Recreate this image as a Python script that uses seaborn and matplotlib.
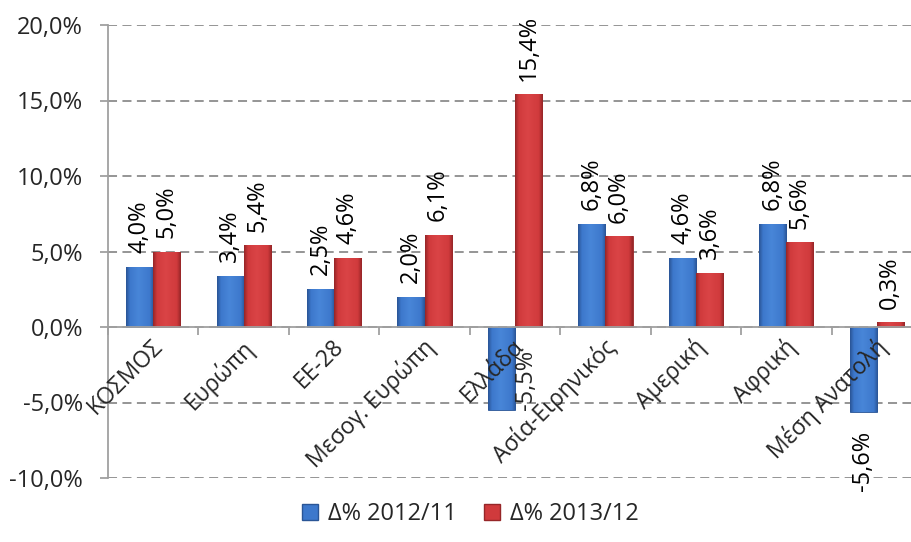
"""
Tourism arrivals change by region: Δ% 2012/11 vs Δ% 2013/12.
Grouped bar chart recreated with seaborn.
"""

import matplotlib

matplotlib.use("Agg")
import matplotlib.pyplot as plt
import numpy as np
import pandas as pd
import seaborn as sns
from matplotlib.colors import LinearSegmentedColormap
from matplotlib.lines import Line2D

# data
REGIONS = [
    "ΚΟΣΜΟΣ",
    "Ευρώπη",
    "ΕΕ-28",
    "Μεσογ. Ευρώπη",
    "Ελλάδα",
    "Ασία-Ειρηνικός",
    "Αμερική",
    "Αφρική",
    "Μέση Ανατολή",
]
CHANGE_2012_11 = [4.0, 3.4, 2.5, 2.0, -5.5, 6.8, 4.6, 6.8, -5.6]
CHANGE_2013_12 = [5.0, 5.4, 4.6, 6.1, 15.4, 6.0, 3.6, 5.6, 0.3]
SERIES = ["Δ% 2012/11", "Δ% 2013/12"]
Y_TICKS = [-10, -5, 0, 5, 10, 15, 20]

COLORS = ["#3d78cc", "#d03a3c"]
LIGHTS = ["#4886d8", "#da4446"]
EDGES = ["#2a5596", "#962628"]
GRID = "#8c8c8c"
AXIS = "#a0a0a0"
FS = 17
# label that Excel moved beside its bar (would hit the category text)
BESIDE_BAR = {(0, "Ελλάδα")}


def pct(v: float) -> str:
    """Greek style percent label, comma decimal"""
    return f"{v:.1f}%".replace(".", ",")


def build_frame() -> pd.DataFrame:
    rows = []
    for name, vals in zip(SERIES, [CHANGE_2012_11, CHANGE_2013_12]):
        for region, v in zip(REGIONS, vals):
            rows.append({"region": region, "series": name, "value": v})
    return pd.DataFrame(rows)


def shade_bars(ax) -> None:
    """Fake the Excel bevel: horizontal gradient clipped to each bar"""
    grad = np.linspace(0, 1, 64).reshape(1, -1)
    for cont, col, light, edge in zip(ax.containers, COLORS, LIGHTS, EDGES):
        cmap = LinearSegmentedColormap.from_list(
            "bev", [(0, edge), (0.14, col), (0.45, light), (0.86, col), (1, edge)]
        )
        for bar in cont:
            bar.set_facecolor(col)
            bar.set_edgecolor(edge)
            bar.set_linewidth(0.6)
            x0 = bar.get_x()
            x1 = x0 + bar.get_width()
            y0 = min(bar.get_y(), bar.get_y() + bar.get_height())
            y1 = max(bar.get_y(), bar.get_y() + bar.get_height())
            im = ax.imshow(grad, extent=[x0, x1, y0, y1], aspect="auto",
                           cmap=cmap, zorder=3.2, interpolation="bilinear")
            im.set_clip_path(bar)


def plot_chart(df: pd.DataFrame) -> None:
    sns.set_style("white")
    plt.rcParams["font.family"] = ["Open Sans", "DejaVu Sans"]

    fig = plt.figure(figsize=(9.12, 5.42), dpi=100)
    # plot area runs past the right edge of the picture, like the original
    ax = fig.add_axes([108 / 912, 64 / 542, 814 / 912, 453 / 542])

    sns.barplot(
        data=df, x="region", y="value", hue="series", order=REGIONS,
        hue_order=SERIES, palette=COLORS, width=0.6, gap=0, ax=ax,
        legend=False, zorder=3,
    )
    shade_bars(ax)

    # value labels, rotated
    for k, cont in enumerate(ax.containers):
        for i, bar in enumerate(cont):
            v = bar.get_height()
            x = bar.get_x() + bar.get_width() / 2
            if (k, REGIONS[i]) in BESIDE_BAR:
                ax.annotate(
                    pct(v), (x, v), xytext=(18, 0), textcoords="offset points",
                    rotation=90, ha="center", va="bottom", fontsize=FS, zorder=5,
                )
                continue
            off = 10 if v >= 0 else -14
            ax.annotate(
                pct(v), (x, v), xytext=(0, off), textcoords="offset points",
                rotation=90, ha="center", va="bottom" if v >= 0 else "top",
                fontsize=FS, color="black", zorder=5,
            )

    # category labels at 45 deg hanging below the zero line
    for i, name in enumerate(REGIONS):
        ax.text(i - 0.03, -0.5, name, rotation=45, ha="right", va="top",
                rotation_mode="anchor", fontsize=16.5, zorder=5)

    ax.set_xlim(-0.5, len(REGIONS) - 0.5)
    ax.set_ylim(-10, 20)
    ax.set_yticks(Y_TICKS)
    ax.set_yticklabels([pct(v) for v in Y_TICKS], fontsize=FS)
    ax.set_xticks(np.arange(-0.5, len(REGIONS), 1))
    ax.set_xticklabels([])
    ax.set_xlabel("")
    ax.set_ylabel("")

    ax.yaxis.grid(True, color=GRID, linestyle=(0, (5, 3)), linewidth=1.3, zorder=0)
    ax.xaxis.grid(False)
    for s in ["top", "right"]:
        ax.spines[s].set_visible(False)
    ax.spines["left"].set_color(AXIS)
    ax.spines["left"].set_linewidth(1.3)
    ax.spines["bottom"].set_position(("data", 0))
    ax.spines["bottom"].set_color(AXIS)
    ax.spines["bottom"].set_linewidth(1.3)
    ax.spines["bottom"].set_zorder(4)
    ax.tick_params(axis="y", direction="out", length=6, color=AXIS, width=1.3,
                   left=True, pad=12)
    ax.tick_params(axis="x", direction="out", length=6, color=AXIS, width=1.3,
                   bottom=True)

    handles = [
        Line2D([], [], marker="s", linestyle="none", markersize=11,
               markerfacecolor=c, markeredgecolor=e, label=s)
        for s, c, e in zip(SERIES, COLORS, EDGES)
    ]
    fig.legend(handles=handles, loc="lower center", bbox_to_anchor=(0.515, -0.01),
               ncol=2, frameon=False, fontsize=FS, handlelength=0.8,
               handletextpad=0.35, columnspacing=1.1)

    fig.savefig("out.png", dpi=100)
    plt.close(fig)


if __name__ == "__main__":
    df = build_frame()
    plot_chart(df)
